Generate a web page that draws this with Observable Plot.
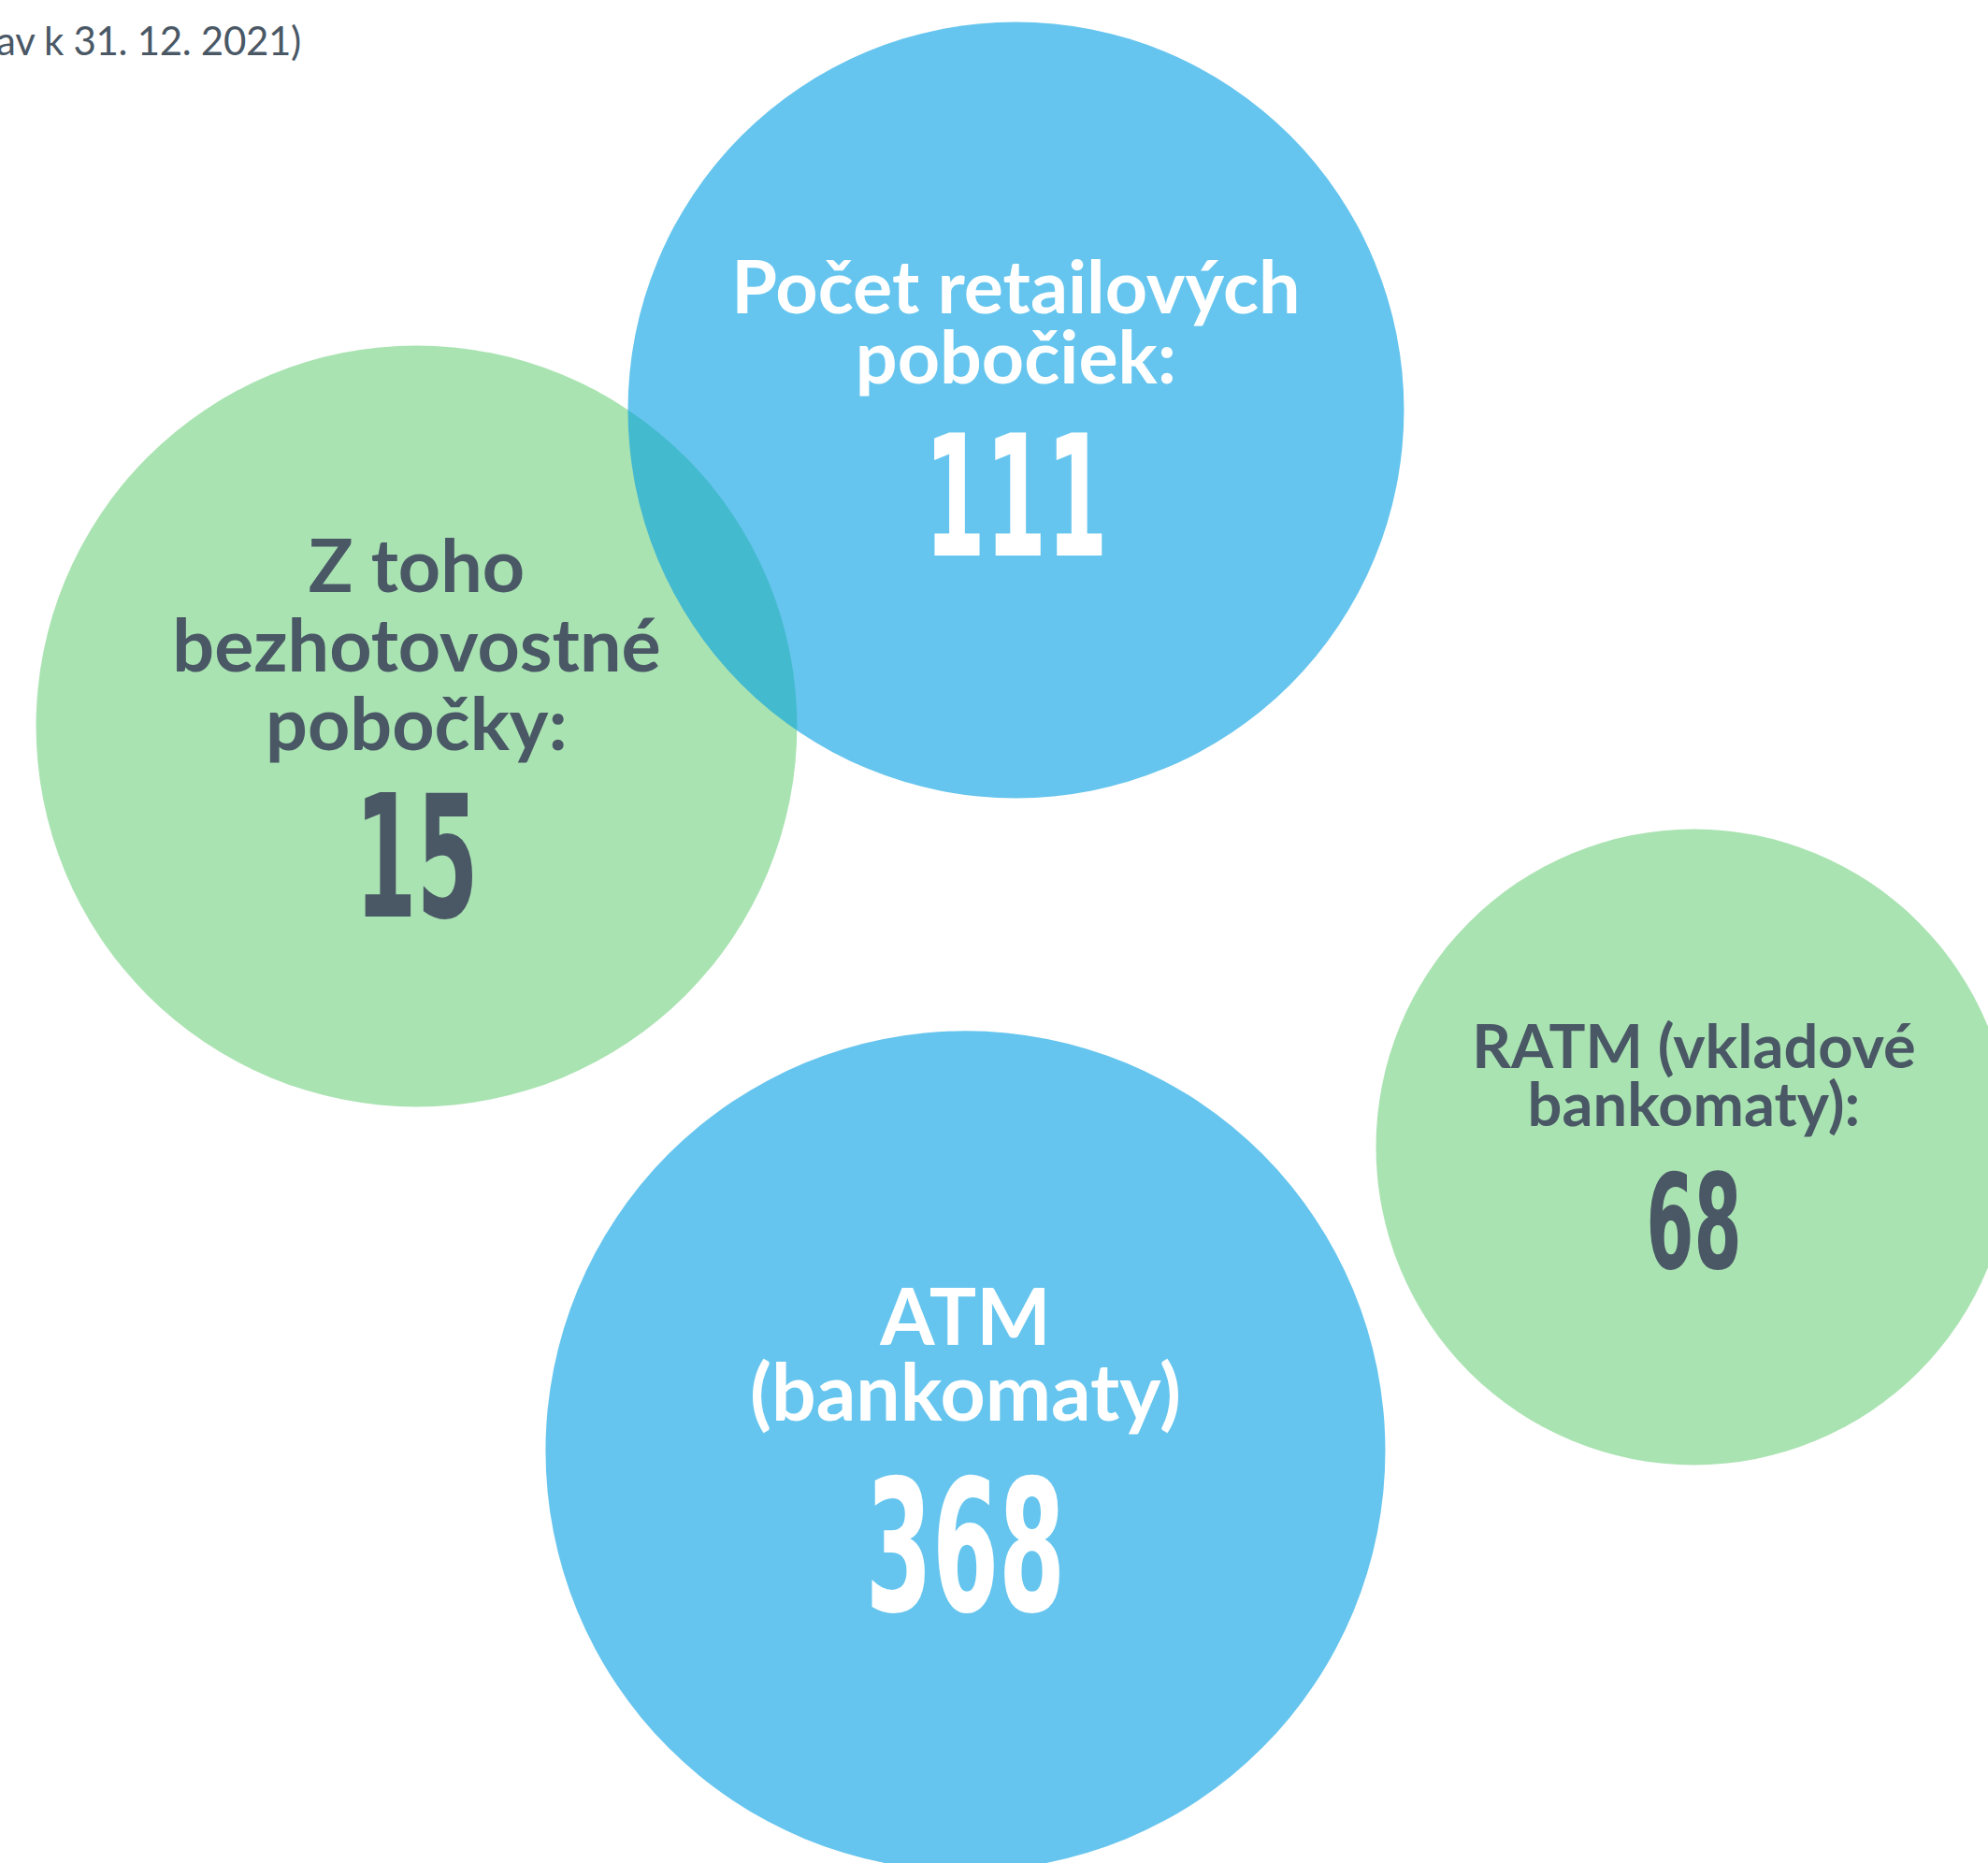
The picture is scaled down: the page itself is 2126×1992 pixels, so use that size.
<!DOCTYPE html>
<html>
<head>
<meta charset="utf-8">
<script src="https://cdn.jsdelivr.net/npm/d3@7"></script>
<script src="https://cdn.jsdelivr.net/npm/@observablehq/plot@0.6"></script>
<style>
  html, body { margin: 0; padding: 0; background: #fff; overflow: hidden; }
  #wrap { position: relative; width: 2126px; height: 1992px; overflow: hidden; }
  #title { position: absolute; right: 1804px; top: 22px; font-family: Lato, sans-serif; font-weight: 400;
           font-size: 42px; line-height: 42px; color: #4A5866; white-space: nowrap; letter-spacing: -0.3px; }
</style>
</head>
<body>
<div id="wrap">
  <div id="title">(stav k 31. 12. 2021)</div>
</div>
<script>
// ---- data ----
const categories = ["Počet retailových pobočiek", "Z toho bezhotovostné pobočky", "ATM (bankomaty)", "RATM (vkladové bankomaty)"];
const labels = ["Počet retailových\npobočiek:", "Z toho\nbezhotovostné\npobočky:", "ATM\n(bankomaty)", "RATM (vkladové\nbankomaty):"];
const values = [111, 15, 368, 68];
const kinds = ["celkom", "z toho", "celkom", "z toho"];

// ---- bubble layout (abstract layout units, 0–100 across) ----
const layoutX = [51.08, 20.93, 48.54, 85.18];
const layoutY = [20.60, 36.50, 72.95, 57.67];
const layoutR = [19.52, 19.14, 21.12, 15.99];

// ---- styles ----
const dark = "#4A5866";
const textStyle = [
  {size: 79, lh: 0.95, dy: -28, numSize: 180, numDy: 28, ink: "#ffffff"},
  {size: 79, lh: 1.07, dy: 26,  numSize: 182, numDy: 74, ink: dark},
  {size: 84, lh: 0.965, dy: -32, numSize: 196, numDy: 31, ink: "#ffffff"},
  {size: 65, lh: 0.94, dy: -23, numSize: 141, numDy: 29, ink: dark}
];
const numScaleX = 0.58;

const rows = categories.map((c, i) => ({
  category: c, label: labels[i], value: values[i], kind: kinds[i],
  x: layoutX[i], y: layoutY[i], r: layoutR[i]
}));

const marks = [
  Plot.dot(rows.filter(d => d.kind === "z toho"), {x: "x", y: "y", r: "r", fill: "kind", fillOpacity: 0.6, stroke: null, sort: null}),
  Plot.dot(rows.filter(d => d.kind === "celkom"), {x: "x", y: "y", r: "r", fill: "kind", fillOpacity: 0.6, stroke: null, sort: null})
];
rows.forEach((d, i) => {
  const s = textStyle[i];
  marks.push(Plot.text([d], {
    x: "x", y: "y", text: "label", textAnchor: "middle", lineAnchor: "bottom",
    lineHeight: s.lh, fontSize: s.size, dy: s.dy, fill: s.ink,
    fontFamily: "Lato", fontWeight: 700
  }));
  marks.push(Plot.text([d], {
    x: "x", y: "y", text: dd => String(dd.value), textAnchor: "middle", lineAnchor: "top",
    fontSize: s.numSize, dy: s.numDy, fill: s.ink,
    fontFamily: "'DejaVu Sans Condensed', 'DejaVu Sans', sans-serif", fontWeight: 700
  }));
});

const svg = Plot.plot({
  width: 2126,
  height: 1992,
  margin: 0,
  x: {domain: [0, 100], axis: null},
  y: {domain: [0, 93.7], reverse: true, axis: null},
  r: {type: "linear", domain: [0, 100], range: [0, 2126]},
  color: {domain: ["celkom", "z toho"], range: ["#009EE3", "#71D07F"]},
  marks
});

// condense the big numbers horizontally (narrow display figures)
const valueStrings = values.map(String);
svg.querySelectorAll("text").forEach(t => {
  if (!valueStrings.includes(t.textContent.trim())) return;
  const tr = t.getAttribute("transform");
  if (tr) {
    t.setAttribute("transform", tr + ` scale(${numScaleX},1)`);
  } else {
    const x = +t.getAttribute("x") || 0;
    t.setAttribute("transform", `translate(${x},0) scale(${numScaleX},1) translate(${-x},0)`);
  }
});

document.getElementById("wrap").insertBefore(svg, document.getElementById("title"));
</script>
</body>
</html>
